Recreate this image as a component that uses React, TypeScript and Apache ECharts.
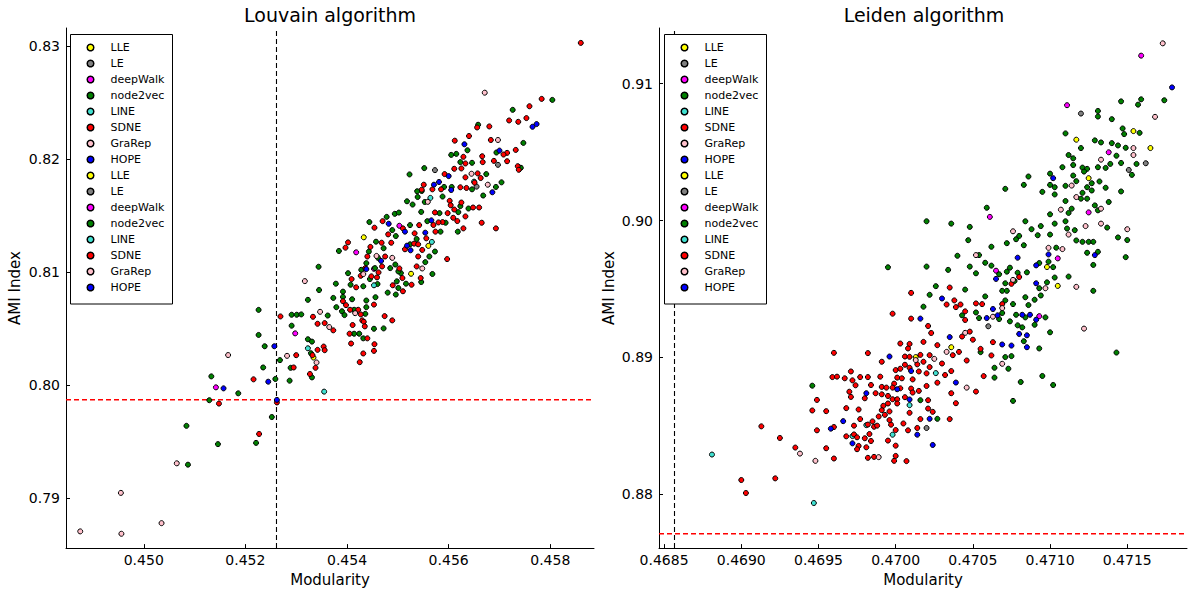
import React, { useEffect, useRef } from "react";
import * as echarts from "echarts";

const FONT = "DejaVu Sans";

const categories = ["LLE", "LE", "deepWalk", "node2vec", "LINE", "SDNE", "GraRep", "HOPE"];
const categoryColors = ["#ffff00", "#808080", "#ff00ff", "#008000", "#40e0d0", "#ff0000", "#ffc0cb", "#0000ff"];

// Axis ranges and ticks
const louvainXRange = [0.44847, 0.45886];
const louvainYRange = [0.78555, 0.83162];
const leidenXRange = [0.468467, 0.471887];
const leidenYRange = [0.876076, 0.91407];
const louvainXTicks = [0.45, 0.452, 0.454, 0.456, 0.458];
const louvainYTicks = [0.79, 0.8, 0.81, 0.82, 0.83];
const leidenXTicks = [0.4685, 0.469, 0.4695, 0.47, 0.4705, 0.471, 0.4715];
const leidenYTicks = [0.88, 0.89, 0.9, 0.91];

// Reference lines
const louvainRefModularity = 0.452612;
const louvainRefAMI = 0.798694;
const leidenRefModularity = 0.4685674;
const leidenRefAMI = 0.877127;

// ---------------- Louvain ----------------
const louvainLLE: number[][] = [[0.45334,0.80243],[0.45433,0.81308],[0.45526,0.80985],[0.4556,0.81232]];
const louvainLE: number[][] = [[0.45697,0.8195],[0.45573,0.81903],[0.45655,0.81757]];
const louvainDeepWalk: number[][] = [[0.45142,0.79979],[0.45298,0.80457],[0.45418,0.81175],[0.45503,0.8141],[0.45453,0.81029]];
const louvainNode2vec: number[][] = [
[0.45087,0.79294],[0.45084,0.79638],[0.45146,0.79476],[0.45129,0.79865],[0.45133,0.80076],[0.45186,0.79926],
[0.45226,0.80665],[0.45226,0.80443],[0.45238,0.80343],[0.45235,0.80155],[0.45259,0.80053],[0.45252,0.79716],[0.45221,0.79487],[0.45268,0.8022],[0.45289,0.80152],[0.45287,0.80038],[0.45291,0.80622],[0.45301,0.80622],[0.4531,0.80625],[0.45291,0.80525],[0.45323,0.80754],[0.45344,0.81047],[0.45345,0.80841],[0.45362,0.80615],[0.45323,0.80405],[0.45331,0.80384],[0.45329,0.80281],[0.45331,0.80067],[0.45373,0.80771],[0.45378,0.80897],[0.45392,0.80827],[0.45392,0.8078],[0.45379,0.80689],[0.4539,0.80653],[0.45395,0.80619],[0.4541,0.80759],[0.45414,0.80666],[0.45436,0.8063],[0.45438,0.80689],[0.45438,0.80748],[0.45456,0.80777],[0.45414,0.80454],[0.45424,0.80454],[0.45432,0.80413],[0.45453,0.80498],[0.45472,0.80501],[0.45384,0.81187],[0.45444,0.81443],[0.45402,0.8099],[0.45407,0.80888],[0.45432,0.80874],[0.45428,0.8102],[0.45445,0.80938],[0.4546,0.80894],[0.45455,0.81035],[0.45438,0.81079],[0.45443,0.81182],[0.45457,0.81269],[0.45472,0.81211],[0.45485,0.81035],[0.45495,0.81067],[0.45506,0.80991],[0.45498,0.80918],[0.4548,0.80818],[0.45496,0.80801],[0.45501,0.80859],[0.45516,0.80897],[0.45546,0.80912],[0.45554,0.81088],[0.45562,0.81138],[0.45524,0.81246],[0.45537,0.81293],[0.45524,0.81416],[0.45489,0.81372],[0.45496,0.81319],[0.45478,0.81489],[0.45494,0.81516],[0.45502,0.81527],[0.45518,0.81627],[0.45529,0.81598],[0.45539,0.81665],[0.45547,0.81718],[0.45546,0.81533],[0.45558,0.81451],[0.45553,0.81621],[0.45501,0.81006],[0.45461,0.81126],
[0.45804,0.82525],[0.45726,0.82437],[0.45658,0.82305],[0.45637,0.82079],[0.45747,0.82144],[0.45694,0.82059],[0.45742,0.81924],[0.45646,0.81968],[0.45615,0.82047],[0.45605,0.82038],[0.45623,0.81974],[0.45552,0.81921],[0.45523,0.81865],[0.45674,0.81868],[0.45646,0.81733],[0.45693,0.81754],[0.45704,0.81795],[0.45668,0.81678],[0.45606,0.81754],[0.45591,0.81754],[0.45538,0.81716],[0.45588,0.81669],[0.45623,0.81584],[0.45582,0.81522],[0.45619,0.81531],[0.45639,0.81563],[0.45594,0.81437],[0.45584,0.81358],[0.45618,0.81358],[0.45568,0.80983],[0.45573,0.81182]
];
const louvainLINE: number[][] = [[0.45323,0.80325],[0.45355,0.79941],[0.45453,0.80883],[0.4565,0.81801],[0.45564,0.81657],[0.45567,0.81267]];
const louvainSDNE: number[][] = [
[0.45148,0.79835],[0.45216,0.8005],[0.45262,0.79845],[0.45227,0.79566],[0.45269,0.80607],[0.453,0.80264],[0.45295,0.80155],[0.45333,0.80604],[0.45342,0.80542],[0.45356,0.80548],[0.45373,0.80484],[0.45342,0.80311],[0.45354,0.8034],[0.45356,0.80308],[0.45332,0.80264],[0.45338,0.80152],[0.45327,0.80097],[0.45392,0.80742],[0.45398,0.80707],[0.45406,0.80666],[0.45422,0.80666],[0.45427,0.80625],[0.45453,0.80712],[0.4543,0.80572],[0.45433,0.8056],[0.45435,0.80519],[0.45411,0.80531],[0.45405,0.80454],[0.4544,0.80413],[0.45408,0.80367],[0.45454,0.80361],[0.45453,0.80302],[0.45432,0.80279],[0.45425,0.80202],[0.45474,0.8061],[0.45489,0.80572],[0.45397,0.81216],[0.45402,0.81263],[0.45454,0.81393],[0.45409,0.80938],[0.45418,0.80865],[0.45436,0.81035],[0.45427,0.80967],[0.45448,0.80962],[0.45459,0.80953],[0.45462,0.80997],[0.4544,0.81138],[0.45446,0.81223],[0.45468,0.8126],[0.45475,0.81138],[0.45469,0.8105],[0.45503,0.81032],[0.45509,0.80947],[0.4549,0.80883],[0.4551,0.8083],[0.45527,0.80888],[0.45545,0.80947],[0.45537,0.8105],[0.4554,0.81138],[0.45548,0.81196],[0.45514,0.81202],[0.45532,0.81252],[0.4554,0.81246],[0.45556,0.81299],[0.45533,0.81343],[0.45542,0.81416],[0.4547,0.81451],[0.45481,0.81334],[0.4551,0.81387],[0.45487,0.8126],
[0.45783,0.82534],[0.45759,0.82469],[0.45719,0.82343],[0.45737,0.82331],[0.45753,0.82364],[0.45656,0.82281],[0.4568,0.8229],[0.4564,0.82205],[0.45612,0.82164],[0.45683,0.8217],[0.45732,0.82082],[0.45715,0.82056],[0.45708,0.82041],[0.45689,0.81985],[0.45715,0.81982],[0.45736,0.81938],[0.45738,0.81906],[0.45666,0.82026],[0.45667,0.81974],[0.45633,0.81962],[0.45629,0.82021],[0.45625,0.81918],[0.45611,0.81915],[0.45592,0.81868],[0.45633,0.81839],[0.45657,0.81874],[0.45663,0.81833],[0.45651,0.81792],[0.45635,0.81745],[0.45623,0.81751],[0.45585,0.81733],[0.45568,0.81733],[0.45551,0.81774],[0.45547,0.8173],[0.45602,0.81631],[0.45604,0.81592],[0.45625,0.81616],[0.45611,0.81554],[0.45598,0.81522],[0.45573,0.81528],[0.45648,0.81572],[0.4566,0.81572],[0.45633,0.81493],[0.45617,0.81452],[0.45609,0.81481],[0.45588,0.81443],[0.4558,0.8144],[0.4557,0.81417],[0.45574,0.81358],[0.45629,0.81387],[0.45665,0.81437],[0.45693,0.81387],[0.45597,0.81115],[0.4586,0.8303]
];
const louvainGraRep: number[][] = [[0.44875,0.78703],[0.44955,0.79044],[0.44956,0.78682],[0.45035,0.78776],[0.45065,0.79306],[0.45166,0.80265],[0.45282,0.80258],[0.45317,0.8092],[0.45347,0.80648],[0.45365,0.80513],[0.45416,0.80636],[0.4534,0.80199],[0.45432,0.80982],[0.45458,0.81143],[0.45548,0.81032],[0.45489,0.81126],[0.45671,0.82589],[0.45697,0.8217],[0.45645,0.81871],[0.45677,0.81774],[0.45559,0.81622]];
const louvainHOPE: number[][] = [[0.45157,0.7997],[0.45257,0.80343],[0.45245,0.80029],[0.45262,0.79868],[0.45438,0.81026],[0.45467,0.81099],[0.45518,0.81234],[0.45525,0.81193],[0.45554,0.81349],[0.45482,0.81428],[0.45514,0.81358],[0.45765,0.82287],[0.45773,0.82311],[0.45631,0.82132],[0.457,0.82076],[0.456,0.8185],[0.45686,0.81707],[0.45571,0.81774],[0.45581,0.81798],[0.45605,0.81727],[0.45566,0.81458]];

// ---------------- Leiden ----------------
const leidenLLE: number[][] = [[0.47013,0.89003],[0.47105,0.89523],[0.47098,0.89661],[0.47036,0.89075],[0.47154,0.90654],[0.47165,0.9053],[0.47117,0.90591],[0.47125,0.9031]];
const leidenLE: number[][] = [[0.4702,0.88485],[0.4706,0.89228],[0.4712,0.90782],[0.47162,0.90419],[0.47151,0.9037]];
const leidenDeepWalk: number[][] = [[0.47065,0.89634],[0.47105,0.89724],[0.47093,0.89302],[0.47159,0.91205],[0.47111,0.90843],[0.47138,0.90499],[0.47125,0.9006],[0.47061,0.90027]];
const leidenNode2vec: number[][] = [
[0.46946,0.88794],[0.47016,0.88688],[0.47027,0.88552],
[0.4702,0.89995],[0.47036,0.89978],[0.47048,0.89954],[0.47047,0.89857],[0.4704,0.89743],[0.47048,0.89664],[0.47054,0.89748],[0.47058,0.89692],[0.47052,0.89615],[0.46995,0.89659],[0.4702,0.89664],[0.47034,0.8964],[0.47026,0.89521],[0.47045,0.89496],[0.47022,0.89458],[0.47018,0.89371],[0.47043,0.89308],[0.47052,0.89329],[0.47058,0.89446],[0.47054,0.89288],[0.47069,0.89325],[0.47067,0.89281],[0.47071,0.89417],[0.47076,0.8939],[0.47069,0.89487],[0.47072,0.89487],[0.47071,0.89542],[0.47077,0.89559],[0.47079,0.89619],[0.47085,0.89622],[0.47072,0.89627],[0.47062,0.89671],[0.47067,0.89608],[0.47074,0.89656],[0.47072,0.89835],[0.47062,0.89809],[0.47078,0.89864],[0.4708,0.89888],[0.47083,0.8982],[0.47088,0.89937],[0.47094,0.8996],[0.47092,0.89893],[0.471,0.89898],[0.47103,0.89978],[0.4711,0.89995],[0.47111,0.89942],[0.47116,0.8993],[0.47117,0.89855],[0.47121,0.89845],[0.47125,0.89845],[0.47128,0.89845],[0.47124,0.89765],[0.47131,0.89772],[0.47128,0.89676],[0.47112,0.89591],[0.47128,0.89487],[0.47099,0.897],[0.47093,0.8969],[0.47104,0.89802],[0.47102,0.8966],[0.47103,0.89584],[0.47098,0.89549],[0.47093,0.89506],[0.47094,0.89453],[0.4709,0.89422],[0.47084,0.8944],[0.47086,0.89383],[0.47097,0.89293],[0.47084,0.89293],[0.4709,0.89239],[0.47078,0.89312],[0.47074,0.89264],[0.47079,0.89235],[0.47082,0.8922],[0.471,0.89184],[0.47083,0.89119],[0.47093,0.89066],[0.47071,0.89003],[0.47075,0.8901],[0.47064,0.88925],[0.47073,0.88918],[0.47064,0.88853],[0.47081,0.88821],[0.47095,0.88865],[0.47102,0.88799],[0.47076,0.88683],[0.47055,0.89039],
[0.47143,0.89036],[0.4715,0.89858],[0.47149,0.89733],[0.47144,0.89877],
[0.47174,0.90879],[0.47159,0.90886],[0.47157,0.90847],[0.47146,0.90871],[0.47131,0.90801],[0.47131,0.9076],[0.4714,0.90741],[0.47147,0.90673],[0.47148,0.90632],[0.47158,0.90641],[0.4711,0.90637],[0.4712,0.9053],[0.47129,0.90586],[0.47133,0.90571],[0.4714,0.90566],[0.47144,0.90549],[0.47149,0.90532],[0.47143,0.90474],[0.47112,0.90479],[0.47115,0.90455],[0.47115,0.90406],[0.47108,0.9039],[0.47121,0.90387],[0.47124,0.90378],[0.47131,0.9039],[0.47136,0.90385],[0.47139,0.90414],[0.47146,0.90421],[0.47156,0.90414],[0.47153,0.90334],[0.47086,0.90322],[0.47083,0.90261],[0.47071,0.90232],[0.47095,0.9021],[0.471,0.90343],[0.471,0.90261],[0.47103,0.90244],[0.47103,0.90191],[0.4711,0.90254],[0.47115,0.90329],[0.47117,0.90288],[0.47122,0.90358],[0.47127,0.90273],[0.47124,0.90244],[0.47121,0.90203],[0.47127,0.9022],[0.47132,0.90286],[0.47136,0.9024],[0.47146,0.90213],[0.4712,0.9016],[0.47124,0.9016],[0.4711,0.90143],[0.47138,0.90136],[0.47129,0.90111],[0.47131,0.90075],[0.47112,0.90056],[0.47114,0.90087],[0.471,0.90046],[0.47059,0.90094],[0.47084,0.89995],[0.47137,0.89949]
];
const leidenLINE: number[][] = [[0.46881,0.88291],[0.46947,0.87937],[0.47026,0.88886],[0.47009,0.88652],[0.46998,0.88436],[0.46981,0.88506],[0.46972,0.88426]];
const leidenSDNE: number[][] = [
[0.469,0.88105],[0.46903,0.8801],[0.46913,0.88497],[0.46925,0.88412],[0.46922,0.88117],[0.46935,0.88342],[0.46955,0.88337],[0.4696,0.88262],[0.46949,0.88468],[0.46946,0.88613],[0.46955,0.88608],[0.46949,0.8869],[0.4696,0.89034],[0.4696,0.88492],[0.46959,0.88857],[0.46962,0.8886],[0.46967,0.88848],[0.46971,0.88898],[0.46972,0.88833],[0.4697,0.8875],[0.46971,0.88712],[0.46974,0.88797],[0.46977,0.88857],[0.46982,0.88857],[0.46982,0.89032],[0.4698,0.88702],[0.46984,0.88799],[0.4699,0.8886],[0.46968,0.8863],[0.46976,0.8862],[0.46987,0.88739],[0.46991,0.88969],[0.47003,0.89102],[0.47009,0.89099],[0.47018,0.89114],[0.47008,0.89066],[0.47006,0.89007],[0.47009,0.89005],[0.47016,0.89019],[0.47022,0.89017],[0.47027,0.8909],[0.47,0.88908],[0.47003,0.88918],[0.47006,0.88947],[0.47009,0.88925],[0.47014,0.8895],[0.47018,0.88969],[0.47022,0.8893],[0.4702,0.88884],[0.47015,0.88898],[0.47001,0.88853],[0.47004,0.88848],[0.47011,0.8884],[0.46999,0.88809],[0.47027,0.88816],[0.46991,0.88785],[0.46994,0.8878],[0.46998,0.8878],[0.47003,0.88775],[0.4701,0.88773],[0.47011,0.88744],[0.47015,0.88756],[0.4702,0.88792],[0.46991,0.88731],[0.46995,0.88719],[0.46998,0.88695],[0.47001,0.88695],[0.47006,0.8871],[0.47021,0.88688],[0.46992,0.88647],[0.46995,0.88664],[0.47001,0.88664],[0.46991,0.88615],[0.46996,0.88606],[0.46993,0.88581],[0.46989,0.88569],[0.46996,0.88543],[0.46997,0.88509],[0.47,0.8847],[0.46995,0.88393],[0.47,0.88356],[0.47,0.88281],[0.46999,0.88245],[0.47007,0.88243],[0.47005,0.88518],[0.47008,0.88468],[0.47014,0.88485],[0.47009,0.88596],[0.47016,0.8855],[0.47021,0.88627],[0.47024,0.88603],[0.46982,0.8851],[0.46985,0.88533],[0.46986,0.88494],[0.46988,0.88502],[0.46977,0.8855],[0.46973,0.88502],[0.46973,0.88438],[0.46968,0.88424],[0.46975,0.88417],[0.4698,0.8841],[0.46983,0.88441],[0.46984,0.8839],[0.46976,0.88354],[0.46975,0.8833],[0.46981,0.88344],[0.46982,0.88267],[0.46986,0.88274],[0.47035,0.8855],
[0.47035,0.89511],[0.4701,0.89472],[0.47033,0.89387],[0.47038,0.89417],[0.47039,0.89368],[0.47042,0.89387],[0.47045,0.89337],[0.46998,0.8932],[0.4701,0.89284],[0.47045,0.89274],[0.47052,0.89395],[0.47056,0.8939],[0.47069,0.8939],[0.47075,0.89538],[0.4708,0.89588],[0.47063,0.89112],[0.47062,0.89015],[0.47057,0.88864],[0.47052,0.88751],[0.47039,0.88666],[0.47055,0.89063],[0.4705,0.8913],[0.47048,0.89189],[0.47043,0.89153],[0.47046,0.88978],[0.47041,0.89041],[0.47037,0.89017],[0.47036,0.88901],[0.47032,0.88872],[0.47036,0.88739],[0.47021,0.8923],[0.47023,0.89179],[0.4703,0.88956]
];
const leidenGraRep: number[][] = [[0.46938,0.88298],[0.46948,0.88245],[0.47025,0.8899],[0.47013,0.88981],[0.46989,0.88272],[0.47052,0.89748],[0.47063,0.89298],[0.47069,0.89361],[0.47076,0.89567],[0.47076,0.89922],[0.47112,0.89898],[0.47123,0.8996],[0.47117,0.89516],[0.47122,0.89211],[0.47099,0.89801],[0.47108,0.89792],[0.47097,0.89506],[0.47069,0.88954],[0.47046,0.8878],[0.47045,0.8918],[0.47033,0.89041],[0.4715,0.89937],[0.47173,0.91295],[0.47168,0.90758],[0.47154,0.9053],[0.47154,0.90479],[0.47133,0.90445],[0.47114,0.90256],[0.47117,0.90172],[0.47133,0.90087],[0.47107,0.9008],[0.47133,0.89978]];
const leidenHOPE: number[][] = [[0.46966,0.88535],[0.46981,0.88739],[0.46996,0.89007],[0.4701,0.88901],[0.47001,0.88768],[0.47009,0.88693],[0.47014,0.88436],[0.47024,0.88361],[0.47022,0.88552],[0.46972,0.88373],[0.46958,0.8848],[0.4703,0.89431],[0.47016,0.89284],[0.47063,0.89354],[0.47059,0.89288],[0.47066,0.89308],[0.47065,0.89574],[0.47079,0.89729],[0.47129,0.89748],[0.47099,0.89753],[0.47091,0.89673],[0.47091,0.89542],[0.47082,0.89312],[0.47087,0.89312],[0.47091,0.89276],[0.4708,0.89172],[0.47085,0.89162],[0.47085,0.89075],[0.47075,0.89087],[0.47069,0.89095],[0.47039,0.88817],[0.47035,0.89149],[0.47179,0.90973],[0.47102,0.9031]];

const louvainData = [louvainLLE, louvainLE, louvainDeepWalk, louvainNode2vec, louvainLINE, louvainSDNE, louvainGraRep, louvainHOPE];
const leidenData = [leidenLLE, leidenLE, leidenDeepWalk, leidenNode2vec, leidenLINE, leidenSDNE, leidenGraRep, leidenHOPE];

function refLineSeries(idx: number, color: string, width: number, pts: number[][]) {
  return {
    type: "line",
    xAxisIndex: idx,
    yAxisIndex: idx,
    data: pts,
    symbol: "none",
    silent: true,
    z: 1,
    lineStyle: { color, type: [5, 3], width, opacity: 1 },
    itemStyle: { color },
    emphasis: { disabled: true },
  };
}

function makeSeries(data: number[][][], idx: number, xr: number[], yr: number[], refX: number, refY: number) {
  const scat = data.map((pts, i) => ({
    type: "scatter",
    name: categories[i],
    xAxisIndex: idx,
    yAxisIndex: idx,
    data: pts,
    symbol: "circle",
    symbolSize: 5,
    silent: true,
    z: 2,
    itemStyle: { color: categoryColors[i], borderColor: "#000", borderWidth: 1, opacity: 1 },
  }));
  return [
    refLineSeries(idx, "#000000", 1.1, [[refX, yr[0]], [refX, yr[1]]]),
    refLineSeries(idx, "#ff0000", 1.4, [[xr[0], refY], [xr[1], refY]]),
    ...scat,
  ];
}

function legendElements(x0: number) {
  const els: any[] = [
    {
      type: "rect",
      shape: { x: x0, y: 34.5, width: 102, height: 269.5 },
      style: { fill: "#fff", stroke: "#000", lineWidth: 1 },
      z: 100,
    },
  ];
  for (let i = 0; i < 16; i++) {
    const c = i % 8;
    const cy = 47.5 + 16 * i;
    els.push({
      type: "circle",
      shape: { cx: x0 + 20, cy, r: 3.3 },
      style: { fill: categoryColors[c], stroke: "#000", lineWidth: 1.5 },
      z: 101,
    });
    els.push({
      type: "text",
      x: x0 + 40,
      y: cy,
      style: { text: categories[c], fill: "#000", fontSize: 11, fontFamily: FONT, verticalAlign: "middle", align: "left" },
      z: 101,
    });
  }
  return els;
}

function xAxisCfg(idx: number, range: number[], ticks: number[], dec: number) {
  return {
    type: "value",
    gridIndex: idx,
    min: range[0],
    max: range[1],
    name: "Modularity",
    nameLocation: "middle",
    nameGap: 22,
    nameTextStyle: { fontSize: 15, color: "#000", fontFamily: FONT },
    axisLine: { show: true, onZero: false, lineStyle: { color: "#000", width: 1 } },
    axisTick: { show: true, inside: true, length: 4, customValues: ticks, lineStyle: { color: "#000" } },
    axisLabel: {
      show: true,
      customValues: ticks,
      margin: 5,
      fontSize: 14,
      color: "#000",
      fontFamily: FONT,
      formatter: (v: number) => v.toFixed(dec),
    },
    splitLine: { show: false },
  };
}

function yAxisCfg(idx: number, range: number[], ticks: number[], gap: number) {
  return {
    type: "value",
    gridIndex: idx,
    min: range[0],
    max: range[1],
    name: "AMI Index",
    nameLocation: "middle",
    nameGap: gap,
    nameRotate: 90,
    nameTextStyle: { fontSize: 15, color: "#000", fontFamily: FONT },
    axisLine: { show: true, onZero: false, lineStyle: { color: "#000", width: 1 } },
    axisTick: { show: true, inside: true, length: 4, customValues: ticks, lineStyle: { color: "#000" } },
    axisLabel: {
      show: true,
      customValues: ticks,
      margin: 6,
      fontSize: 14,
      color: "#000",
      fontFamily: FONT,
      formatter: (v: number) => v.toFixed(2),
    },
    splitLine: { show: false },
  };
}

export default function App() {
  const ref = useRef<HTMLDivElement>(null);
  useEffect(() => {
    if (!ref.current) return;
    const chart = echarts.init(ref.current, undefined, { renderer: "svg" });
    chart.setOption({
      animation: false,
      backgroundColor: "#fff",
      textStyle: { fontFamily: FONT },
      title: [
        { text: "Louvain algorithm", left: 330, top: 5, padding: 0, textAlign: "center", textStyle: { fontSize: 19, fontWeight: "normal", color: "#000", fontFamily: FONT } },
        { text: "Leiden algorithm", left: 924, top: 5, padding: 0, textAlign: "center", textStyle: { fontSize: 19, fontWeight: "normal", color: "#000", fontFamily: FONT } },
      ],
      grid: [
        { left: 66, top: 28, width: 528, height: 524 },
        { left: 659, top: 28, width: 528, height: 524 },
      ],
      xAxis: [
        xAxisCfg(0, louvainXRange, louvainXTicks, 3),
        xAxisCfg(1, leidenXRange, leidenXTicks, 4),
      ],
      yAxis: [
        yAxisCfg(0, louvainYRange, louvainYTicks, 44),
        yAxisCfg(1, leidenYRange, leidenYTicks, 43),
      ],
      series: [
        ...makeSeries(louvainData, 0, louvainXRange, louvainYRange, louvainRefModularity, louvainRefAMI),
        ...makeSeries(leidenData, 1, leidenXRange, leidenYRange, leidenRefModularity, leidenRefAMI),
      ],
      graphic: [...legendElements(70.5), ...legendElements(664.5)],
    });
    return () => chart.dispose();
  }, []);
  return (
    <div
      ref={ref}
      style={{ position: "fixed", left: 0, top: 0, width: 1188, height: 592, background: "#fff" }}
    />
  );
}
